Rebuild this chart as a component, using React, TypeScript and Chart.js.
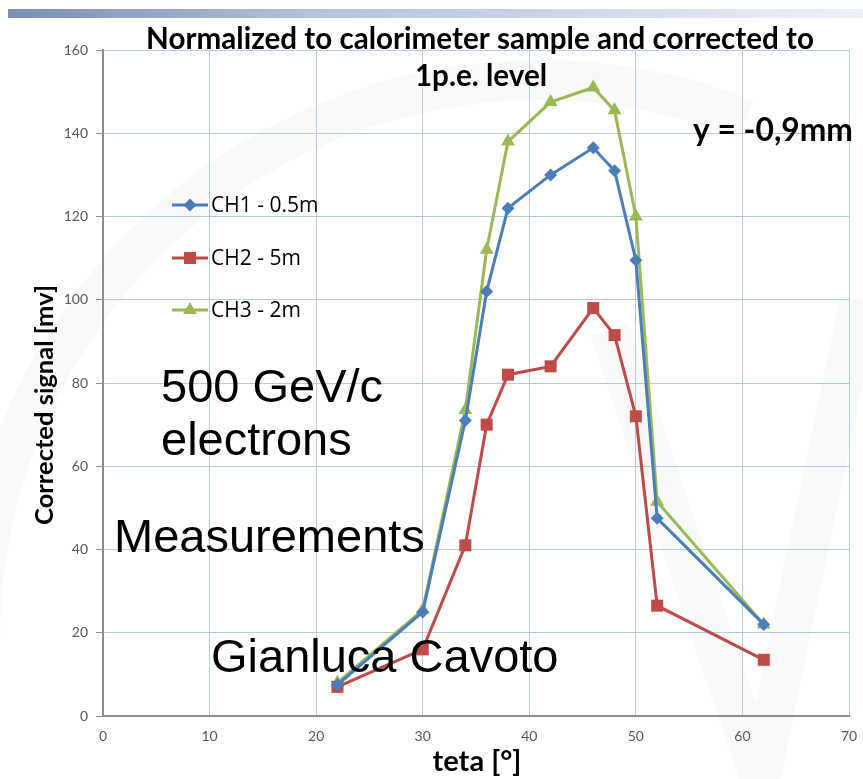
import React, { useEffect, useRef } from "react";
import { Chart, registerables } from "chart.js";

Chart.register(...registerables);

// ---- data ----
const TETA = [22, 30, 34, 36, 38, 42, 46, 48, 50, 52, 62];
const CH1 = [7.5, 25, 71, 102, 122, 130, 136.5, 131, 109.5, 47.5, 22];
const CH2 = [7, 16, 41, 70, 82, 84, 98, 91.5, 72, 26.5, 13.5];
const CH3 = [8, 25.5, 73.5, 112, 138, 147.5, 151, 145.5, 120, 51.5, 22];
const SERIES_NAMES = ["CH1 - 0.5m", "CH2 - 5m", "CH3 - 2m"];
const X_RANGE = [0, 70, 10];
const Y_RANGE = [0, 160, 20];
const TITLE_LINES = ["Normalized to calorimeter sample and corrected to", "1p.e. level"];
const X_TITLE = "teta [°]";
const Y_TITLE = "Corrected signal [mv]";
const NOTE_Y = "y = -0,9mm";
const NOTES_BIG = ["500 GeV/c", "electrons", "Measurements", "Gianluca Cavoto"];

const COLORS = ["#4a7ebb", "#be4b48", "#98b954"];
const SHAPES = ["rectRot", "rect", "triangle"];
const RADII = [6.5, 8.5, 8];

const W = 863;
const H = 779;

function fitFont(ctx: CanvasRenderingContext2D, text: string, family: string, weight: string, target: number) {
  ctx.font = `${weight} 100px ${family}`;
  const w = ctx.measureText(text).width;
  const size = (100 * target) / w;
  ctx.font = `${weight} ${size}px ${family}`;
  return size;
}

function drawMarker(ctx: CanvasRenderingContext2D, style: string, r: number, x: number, y: number) {
  ctx.beginPath();
  if (style === "rect") {
    const s = Math.SQRT1_2 * r;
    ctx.rect(x - s, y - s, 2 * s, 2 * s);
  } else if (style === "rectRot") {
    ctx.moveTo(x - r, y);
    ctx.lineTo(x, y - r);
    ctx.lineTo(x + r, y);
    ctx.lineTo(x, y + r);
    ctx.closePath();
  } else {
    for (let k = 0; k < 3; k++) {
      const ang = -Math.PI / 2 + (k * 2 * Math.PI) / 3;
      const px = x + Math.cos(ang) * r;
      const py = y + Math.sin(ang) * r;
      if (k === 0) ctx.moveTo(px, py);
      else ctx.lineTo(px, py);
    }
    ctx.closePath();
  }
  ctx.fill();
}

const decorPlugin = {
  id: "decor",
  beforeDraw(chart: any) {
    const ctx = chart.ctx as CanvasRenderingContext2D;
    ctx.save();
    ctx.fillStyle = "#ffffff";
    ctx.fillRect(0, 0, W, H);
    // top banner
    const g = ctx.createLinearGradient(8, 0, W, 0);
    g.addColorStop(0, "#7d8db5");
    g.addColorStop(0.35, "#b4c0da");
    g.addColorStop(1, "#eef1f7");
    ctx.fillStyle = g;
    ctx.fillRect(8, 9, W - 8, 9);
    // faint watermark arcs
    ctx.strokeStyle = "rgba(0,0,0,0.022)";
    ctx.lineWidth = 40;
    ctx.beginPath();
    ctx.arc(540, 640, 560, Math.PI * 1.0, Math.PI * 1.62);
    ctx.stroke();
    ctx.beginPath();
    ctx.moveTo(610, 330);
    ctx.lineTo(760, 779);
    ctx.moveTo(860, 300);
    ctx.lineTo(760, 779);
    ctx.stroke();
    ctx.restore();
  },
  afterDraw(chart: any) {
    const ctx = chart.ctx as CanvasRenderingContext2D;
    ctx.save();
    ctx.fillStyle = "#000000";
    ctx.textBaseline = "alphabetic";
    // title
    ctx.textAlign = "center";
    fitFont(ctx, TITLE_LINES[0], "Lato", "bold", 668);
    ctx.fillText(TITLE_LINES[0], 480, 49);
    ctx.fillText(TITLE_LINES[1], 481, 86);
    // y note
    ctx.textAlign = "left";
    fitFont(ctx, NOTE_Y, "Lato", "bold", 160);
    ctx.fillText(NOTE_Y, 693, 141);
    // axis titles
    ctx.textAlign = "center";
    fitFont(ctx, X_TITLE, "Lato", "bold", 89);
    ctx.fillText(X_TITLE, 477, 771);
    ctx.save();
    ctx.translate(53, 405);
    ctx.rotate(-Math.PI / 2);
    fitFont(ctx, Y_TITLE, "Lato", "bold", 240);
    ctx.fillText(Y_TITLE, 0, 0);
    ctx.restore();
    // big notes
    ctx.textAlign = "left";
    ctx.font = "47px 'Liberation Sans'";
    ctx.fillText(NOTES_BIG[0], 161, 402);
    ctx.fillText(NOTES_BIG[1], 161, 455);
    ctx.fillText(NOTES_BIG[2], 114, 552);
    ctx.fillText(NOTES_BIG[3], 211, 672);
    // legend
    const legendY = [205, 258, 310];
    chart.data.datasets.forEach((ds: any, i: number) => {
      const y = legendY[i];
      ctx.strokeStyle = ds.borderColor;
      ctx.lineWidth = 3;
      ctx.beginPath();
      ctx.moveTo(172, y);
      ctx.lineTo(208, y);
      ctx.stroke();
      ctx.fillStyle = ds.pointBackgroundColor;
      drawMarker(ctx, ds.pointStyle, ds.pointRadius, 190, y);
      ctx.fillStyle = "#000000";
      ctx.font = "21px 'Open Sans'";
      ctx.textAlign = "left";
      ctx.textBaseline = "middle";
      ctx.fillText(ds.label, 211, y + 1);
      ctx.textBaseline = "alphabetic";
    });
    ctx.restore();
  },
};

export default function App() {
  const ref = useRef<HTMLCanvasElement | null>(null);
  useEffect(() => {
    if (!ref.current) return;
    const series = [CH1, CH2, CH3];
    const chart = new Chart(ref.current, {
      type: "line",
      data: {
        datasets: series.map((vals, i) => ({
          label: SERIES_NAMES[i],
          data: TETA.map((t, k) => ({ x: t, y: vals[k] })),
          borderColor: COLORS[i],
          backgroundColor: COLORS[i],
          pointBackgroundColor: COLORS[i],
          pointBorderColor: COLORS[i],
          pointStyle: SHAPES[i] as any,
          pointRadius: RADII[i],
          pointBorderWidth: 0,
          borderWidth: 3,
          tension: 0,
          fill: false,
        })),
      },
      options: {
        responsive: false,
        animation: false,
        devicePixelRatio: 1,
        layout: { padding: { top: 50, right: 14, left: 0, bottom: 0 } },
        plugins: {
          legend: { display: false },
          title: { display: false },
          tooltip: { enabled: false },
        },
        scales: {
          x: {
            type: "linear",
            min: X_RANGE[0],
            max: X_RANGE[1],
            afterFit: (s: any) => {
              s.height = 63;
              s.paddingLeft = 0;
              s.paddingRight = 0;
            },
            ticks: {
              stepSize: X_RANGE[2],
              padding: 12,
              color: "#595959",
              font: { family: "Lato", size: 14 },
            },
            grid: {
              color: "#b9c8e4",
              lineWidth: 1,
              drawTicks: false,
            },
            border: { color: "#8c8c8c", width: 2 },
          },
          y: {
            type: "linear",
            min: Y_RANGE[0],
            max: Y_RANGE[1],
            afterFit: (s: any) => {
              s.width = 103;
              s.paddingTop = 0;
              s.paddingBottom = 0;
            },
            ticks: {
              stepSize: Y_RANGE[2],
              padding: 8,
              color: "#595959",
              font: { family: "Lato", size: 14 },
            },
            grid: {
              color: "#b9c8e4",
              lineWidth: 1,
              tickLength: 7,
              tickColor: "#8c8c8c",
            },
            border: { color: "#8c8c8c", width: 2 },
          },
        },
      },
      plugins: [decorPlugin],
    });
    return () => chart.destroy();
  }, []);
  return (
    <div style={{ position: "absolute", left: 0, top: 0, width: W, height: H }}>
      <canvas ref={ref} width={W} height={H} style={{ width: W, height: H, display: "block" }} />
    </div>
  );
}
